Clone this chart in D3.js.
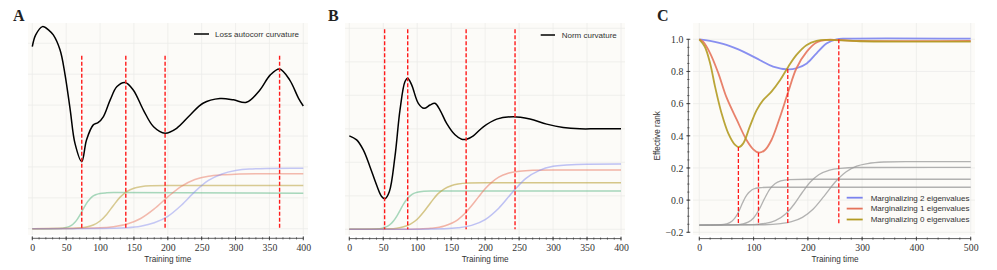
<!DOCTYPE html>
<html><head><meta charset="utf-8">
<script src="https://cdn.jsdelivr.net/npm/d3@7"></script>
<style>body{margin:0;background:#fff}</style>
</head><body>
<svg id="chart" width="997" height="270"></svg>
<script>
// ---------- DATA ----------
const panelLetters = ["A", "B", "C"];
const xTicksAB = [0, 50, 100, 150, 200, 250, 300, 350, 400];
const xTicksC = [0, 100, 200, 300, 400, 500];
const yTicksC = [-0.2, 0.0, 0.2, 0.4, 0.6, 0.8, 1.0];
const gridAB = [0, 1, 2, 3, 4, 5, 6];

// Panel A
const aLoss = [[0,5.89],[5,6.27],[15,6.54],[25,6.41],[31,6.27],[41,5.78],[48,5.03],[56,3.84],[63,2.76],[73,2.17],[80,2.87],[90,3.36],[97,3.43],[105,3.63],[115,4.17],[125,4.60],[137,4.73],[149,4.49],[164,3.84],[179,3.30],[196,3.09],[213,3.25],[233,3.68],[252,4.06],[277,4.21],[297,4.17],[316,4.09],[336,4.49],[351,4.97],[365,5.17],[380,4.81],[393,4.22],[400,3.97]];
const aGreen = [[0,0],[40,0.01],[50,0.04],[55,0.076],[60,0.144],[65,0.26],[70,0.43],[75,0.63],[80,0.82],[85,0.96],[90,1.06],[95,1.11],[100,1.14],[110,1.16],[120,1.17],[400,1.15]];
const aGold = [[0,0],[60,0.01],[70,0.023],[80,0.053],[90,0.12],[100,0.25],[110,0.47],[120,0.76],[130,1.03],[140,1.21],[150,1.31],[160,1.36],[175,1.39],[200,1.40],[400,1.40]];
const aRed = [[0,0],[100,0.027],[120,0.064],[140,0.15],[160,0.33],[180,0.64],[200,1.03],[220,1.37],[240,1.59],[260,1.70],[280,1.745],[300,1.765],[330,1.775],[400,1.78]];
const aBlue = [[0,0],[100,0.006],[140,0.034],[160,0.08],[180,0.19],[200,0.40],[220,0.76],[240,1.20],[260,1.56],[280,1.77],[300,1.88],[320,1.93],[350,1.95],[400,1.96]];
const aDashes = [73, 138, 196, 365];
const aDashTop = 5.6;

// Panel B
const bNorm = [[0,2.79],[10.8,2.67],[20.6,2.37],[30.4,1.87],[40.2,1.32],[47.6,0.98],[52.5,0.91],[58.9,1.12],[67.2,2.17],[74.6,3.56],[82,4.41],[85.9,4.51],[91.8,4.31],[101.6,3.76],[110,3.61],[118.8,3.71],[126,3.76],[133.5,3.56],[143.3,3.16],[155.6,2.82],[165.4,2.69],[172.8,2.69],[182.6,2.79],[197.3,3.06],[217,3.29],[241.5,3.36],[266,3.29],[290.6,3.14],[315,3.04],[339.6,3.0],[364,3.0],[400,3.0]];
const bGreen = [[0,0],[40,0.012],[50,0.043],[55,0.079],[60,0.143],[65,0.246],[70,0.394],[75,0.575],[80,0.756],[85,0.904],[90,1.006],[95,1.071],[100,1.107],[110,1.138],[120,1.147],[400,1.145]];
const bGold = [[0,0],[60,0.016],[70,0.034],[80,0.074],[90,0.154],[100,0.30],[110,0.53],[120,0.80],[130,1.05],[140,1.21],[150,1.30],[160,1.35],[175,1.38],[200,1.39],[400,1.39]];
const bRed = [[0,0],[80,0.003],[100,0.01],[120,0.031],[140,0.099],[160,0.29],[170,0.47],[180,0.70],[190,0.96],[200,1.21],[210,1.41],[220,1.56],[235,1.68],[250,1.73],[270,1.76],[300,1.77],[400,1.77]];
const bBlue = [[0,0],[100,0.002],[140,0.017],[160,0.045],[180,0.117],[200,0.29],[220,0.63],[240,1.10],[260,1.52],[280,1.76],[300,1.88],[320,1.92],[350,1.945],[400,1.95]];
const bDashes = [52, 86, 172, 244];
const bDashTop = 5.97;

// Panel C
const cMarg2 = [[0,1.0],[19.7,0.99],[50,0.965],[81,0.923],[112,0.87],[136,0.83],[164,0.813],[179,0.82],[198,0.85],[216,0.913],[235,0.975],[253,1.0],[271,1.004],[500,1.004]];
const cMarg1 = [[0,1.0],[7,0.985],[20,0.913],[35,0.79],[50,0.64],[69,0.5],[87,0.374],[99.5,0.316],[110,0.295],[121,0.312],[133,0.374],[149,0.52],[164,0.675],[179,0.82],[198,0.923],[216,0.98],[235,0.996],[253,0.996],[296,0.99],[500,0.99]];
const cMarg0 = [[0,1.0],[10,0.955],[20,0.85],[29,0.706],[41,0.54],[53.4,0.415],[66,0.343],[73,0.33],[81,0.353],[93,0.457],[105.7,0.56],[118,0.623],[133,0.675],[149,0.747],[164,0.83],[179,0.903],[198,0.965],[216,0.99],[235,0.996],[296,0.988],[500,0.985]];
const cGray1 = [[0,-0.155],[40,-0.153],[50,-0.148],[60,-0.132],[65,-0.114],[70,-0.088],[75,-0.053],[80,-0.015],[85,0.019],[90,0.043],[95,0.059],[100,0.069],[110,0.077],[130,0.08],[500,0.08]];
const cGray2 = [[0,-0.155],[70,-0.152],[80,-0.148],[90,-0.137],[100,-0.111],[110,-0.060],[120,0.009],[130,0.069],[140,0.104],[150,0.120],[165,0.128],[200,0.13],[500,0.13]];
const cGray3 = [[0,-0.155],[100,-0.152],[120,-0.145],[140,-0.127],[160,-0.083],[175,-0.024],[190,0.049],[205,0.114],[220,0.158],[240,0.187],[260,0.198],[290,0.203],[500,0.204]];
const cGray4 = [[0,-0.155],[120,-0.153],[150,-0.146],[170,-0.134],[190,-0.107],[210,-0.055],[230,0.025],[250,0.111],[270,0.175],[290,0.211],[310,0.227],[340,0.237],[380,0.24],[500,0.24]];
const cDashes = [72, 109, 163, 257];
const cDashTops = [0.33, 0.295, 0.815, 1.0];
const cDashBottom = -0.155;
const cLegend = ["Marginalizing 2 eigenvalues", "Marginalizing 1 eigenvalues", "Marginalizing 0 eigenvalues"];

// ---------- STYLE ----------
const COL = {
  green: "#52b47e", gold: "#b49a2c", red: "#ea7862", blue: "#8088f0",
  cBlue: "#7b83ee", cRed: "#e5735b", cGold: "#b39b22", gray: "#9a9a9a",
  grid: "#ececea", bg: "#fcfbf8", dash: "#ff1a1a"
};
const SANS = "'Liberation Sans', Arial, sans-serif";
const SERIF = "'Liberation Serif', 'Times New Roman', serif";

const svg = d3.select("#chart");

function drawPanel(o) {
  const g = svg.append("g");
  // background
  g.append("rect").attr("x", o.bg[0]).attr("y", o.bg[1])
    .attr("width", o.bg[2] - o.bg[0]).attr("height", o.bg[3] - o.bg[1])
    .attr("fill", COL.bg);
  // grid
  g.selectAll(".gx").data(o.xTicks).join("line")
    .attr("x1", d => o.x(d)).attr("x2", d => o.x(d))
    .attr("y1", o.bg[1]).attr("y2", o.bg[3])
    .attr("stroke", COL.grid).attr("stroke-width", 0.8);
  g.selectAll(".gy").data(o.yGrid).join("line")
    .attr("x1", o.bg[0]).attr("x2", o.bg[2])
    .attr("y1", d => o.y(d)).attr("y2", d => o.y(d))
    .attr("stroke", COL.grid).attr("stroke-width", 0.8);
  // x axis
  const ax = g.append("g").attr("transform", `translate(0,${o.axisY})`);
  const xd = o.x.domain();
  ax.append("line").attr("x1", o.x(xd[0])).attr("x2", o.x(xd[1]))
    .attr("stroke", "#333").attr("stroke-width", 0.8);
  const xAxis = d3.axisBottom(o.x).tickValues(o.xTicks).tickSize(0).tickPadding(0);
  const axg = ax.append("g").call(xAxis);
  axg.select(".domain").remove();
  axg.selectAll(".tick line").remove();
  axg.selectAll(".tick text").attr("y", 12.5).attr("dy", null)
    .attr("font-family", SERIF).attr("font-size", 9.8).attr("fill", "#333");
  ax.selectAll(".mj").data(o.xTicks).join("line")
    .attr("x1", d => o.x(d)).attr("x2", d => o.x(d)).attr("y1", -2).attr("y2", 2)
    .attr("stroke", "#333").attr("stroke-width", 0.8);
  ax.selectAll(".mn").data(o.xMinor).join("line")
    .attr("x1", d => o.x(d)).attr("x2", d => o.x(d)).attr("y1", -1.2).attr("y2", 1.2)
    .attr("stroke", "#333").attr("stroke-width", 0.6);
  g.append("text").attr("x", (o.x(xd[0]) + o.x(xd[1])) / 2).attr("y", 262)
    .attr("text-anchor", "middle").attr("font-family", SANS).attr("font-size", 8.2)
    .attr("fill", "#333").text("Training time");
  // panel letter
  g.append("text").attr("x", o.letterX).attr("y", 21)
    .attr("font-family", SERIF).attr("font-weight", "bold").attr("font-size", 16)
    .attr("fill", "#222").text(o.letter);
  return g;
}

function lineGen(x, y, curve) {
  return d3.line().x(d => x(d[0])).y(d => y(d[1])).curve(curve);
}
function range(a, b, s) { return d3.range(a, b + s / 2, s); }

// ---------- PANEL A ----------
const xA = d3.scaleLinear().domain([0, 400]).range([32.3, 303.3]);
const yA = d3.scaleLinear().domain([0, 6]).range([228.7, 43.3]);
const gA = drawPanel({ x: xA, y: yA, bg: [28, 23, 308, 235], xTicks: xTicksAB,
  xMinor: range(0, 400, 10), yGrid: gridAB, axisY: 238.3, letter: panelLetters[0], letterX: 13 });
const sm = d3.curveMonotoneX, cr = d3.curveCatmullRom.alpha(0.5);
[[aGreen, COL.green, 0.5], [aGold, COL.gold, 0.5], [aRed, COL.red, 0.5], [aBlue, COL.blue, 0.45]].forEach(([d, c, op]) => {
  gA.append("path").datum(d).attr("d", lineGen(xA, yA, sm)).attr("fill", "none")
    .attr("stroke", c).attr("stroke-opacity", op).attr("stroke-width", 1.5);
});
gA.append("path").datum(aLoss).attr("d", lineGen(xA, yA, cr)).attr("fill", "none")
  .attr("stroke", "#000").attr("stroke-width", 1.5);
gA.selectAll(".dash").data(aDashes).join("line")
  .attr("x1", d => xA(d)).attr("x2", d => xA(d)).attr("y1", yA(aDashTop)).attr("y2", yA(0))
  .attr("stroke", COL.dash).attr("stroke-width", 1.4).attr("stroke-dasharray", "4,2");
gA.append("line").attr("x1", 194).attr("x2", 209).attr("y1", 34).attr("y2", 34)
  .attr("stroke", "#000").attr("stroke-width", 1.5);
gA.append("text").attr("x", 215).attr("y", 36.8).attr("font-family", SANS).attr("font-size", 8)
  .attr("fill", "#333").text("Loss autocorr curvature");

// ---------- PANEL B ----------
const xB = d3.scaleLinear().domain([0, 400]).range([349.3, 621]);
const yB = d3.scaleLinear().domain([0, 6]).range([229.3, 28.3]);
const gB = drawPanel({ x: xB, y: yB, bg: [345, 23, 625, 235], xTicks: xTicksAB,
  xMinor: range(0, 400, 10), yGrid: gridAB, axisY: 238.6, letter: panelLetters[1], letterX: 328 });
[[bGreen, COL.green, 0.5], [bGold, COL.gold, 0.55], [bRed, COL.red, 0.55], [bBlue, COL.blue, 0.5]].forEach(([d, c, op]) => {
  gB.append("path").datum(d).attr("d", lineGen(xB, yB, sm)).attr("fill", "none")
    .attr("stroke", c).attr("stroke-opacity", op).attr("stroke-width", 1.5);
});
gB.append("path").datum(bNorm).attr("d", lineGen(xB, yB, cr)).attr("fill", "none")
  .attr("stroke", "#000").attr("stroke-width", 1.5);
gB.selectAll(".dash").data(bDashes).join("line")
  .attr("x1", d => xB(d)).attr("x2", d => xB(d)).attr("y1", yB(bDashTop)).attr("y2", yB(0))
  .attr("stroke", COL.dash).attr("stroke-width", 1.4).attr("stroke-dasharray", "4,2");
gB.append("line").attr("x1", 540.7).attr("x2", 555).attr("y1", 35).attr("y2", 35)
  .attr("stroke", "#000").attr("stroke-width", 1.5);
gB.append("text").attr("x", 561.7).attr("y", 37.8).attr("font-family", SANS).attr("font-size", 8)
  .attr("fill", "#333").text("Norm curvature");

// ---------- PANEL C ----------
const xC = d3.scaleLinear().domain([0, 500]).range([699.3, 970.7]);
const yC = d3.scaleLinear().domain([-0.2, 1.0]).range([232.3, 39.3]);
const gC = drawPanel({ x: xC, y: yC, bg: [693, 23, 975, 235], xTicks: xTicksC,
  xMinor: range(0, 500, 20), yGrid: yTicksC, axisY: 238.6, letter: panelLetters[2], letterX: 657 });
// y axis
const ayC = gC.append("g").attr("transform", "translate(688.3,0)");
ayC.append("line").attr("y1", yC(-0.2)).attr("y2", yC(1.0)).attr("stroke", "#333").attr("stroke-width", 0.8);
ayC.selectAll(".mj").data(yTicksC).join("line")
  .attr("x1", -2).attr("x2", 2).attr("y1", d => yC(d)).attr("y2", d => yC(d))
  .attr("stroke", "#333").attr("stroke-width", 0.8);
ayC.selectAll(".mn").data(range(-0.2, 1.0, 0.05)).join("line")
  .attr("x1", -1.2).attr("x2", 1.2).attr("y1", d => yC(d)).attr("y2", d => yC(d))
  .attr("stroke", "#333").attr("stroke-width", 0.6);
const yAxisC = d3.axisLeft(yC).tickValues(yTicksC).tickSize(0).tickPadding(0)
  .tickFormat(d => d3.format(".1f")(d).replace("-", "\u2212"));
const yg = ayC.append("g").call(yAxisC);
yg.select(".domain").remove();
yg.selectAll(".tick line").remove();
yg.selectAll(".tick text").attr("x", -5).attr("dy", "0.33em")
  .attr("font-family", SERIF).attr("font-size", 9.8).attr("fill", "#333");
gC.append("text").attr("transform", `translate(657,${(yC(-0.2) + yC(1.0)) / 2}) rotate(-90)`)
  .attr("text-anchor", "middle").attr("dy", "0.35em").attr("font-family", SANS).attr("font-size", 8.2)
  .attr("fill", "#333").text("Effective rank");
[cGray1, cGray2, cGray3, cGray4].forEach(d => {
  gC.append("path").datum(d).attr("d", lineGen(xC, yC, sm)).attr("fill", "none")
    .attr("stroke", COL.gray).attr("stroke-opacity", 0.75).attr("stroke-width", 1.3);
});
[[cMarg2, COL.cBlue], [cMarg1, COL.cRed], [cMarg0, COL.cGold]].forEach(([d, c]) => {
  gC.append("path").datum(d).attr("d", lineGen(xC, yC, cr)).attr("fill", "none")
    .attr("stroke", c).attr("stroke-opacity", 0.9).attr("stroke-width", 1.8);
});
gC.selectAll(".dash").data(cDashes).join("line")
  .attr("x1", d => xC(d)).attr("x2", d => xC(d))
  .attr("y1", (d, i) => yC(cDashTops[i])).attr("y2", yC(cDashBottom))
  .attr("stroke", COL.dash).attr("stroke-width", 1.3).attr("stroke-dasharray", "4,2");
const legC = [COL.cBlue, COL.cRed, COL.cGold];
cLegend.forEach((t, i) => {
  const yy = 197.7 + i * 10.9;
  gC.append("line").attr("x1", 846.7).attr("x2", 862.7).attr("y1", yy).attr("y2", yy)
    .attr("stroke", legC[i]).attr("stroke-width", 1.8);
  gC.append("text").attr("x", 870.7).attr("y", yy + 2.8).attr("font-family", SANS)
    .attr("font-size", 8).attr("fill", "#333").text(t);
});
</script>
</body></html>
